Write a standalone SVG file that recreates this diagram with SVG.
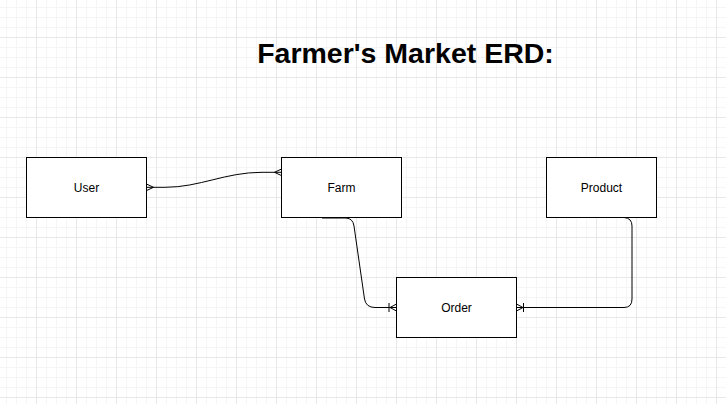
<svg xmlns="http://www.w3.org/2000/svg" width="726" height="404" viewBox="0 0 726 404">
<defs>
<pattern id="minor" x="6" y="7" width="10" height="10" patternUnits="userSpaceOnUse">
<path d="M0 0.5H10M0.5 0V10" fill="none" stroke="#f5f5f5" stroke-width="1"/>
</pattern>
<pattern id="major" x="36" y="37" width="40" height="40" patternUnits="userSpaceOnUse">
<path d="M0 0.5H40M0.5 0V40" fill="none" stroke="#e8e8e8" stroke-width="1"/>
</pattern>
</defs>
<style>
.box{fill:#fff;stroke:#000;stroke-width:1}
.lbl{font-family:"Liberation Sans",Arial,sans-serif;font-size:12px;fill:#000;text-anchor:middle}
.title{font-family:"Liberation Sans",Arial,sans-serif;font-size:28.5px;font-weight:bold;fill:#000;text-anchor:middle}
.edge{fill:none;stroke:#000;stroke-width:1}
</style>
<rect width="726" height="404" fill="#fff"/>
<rect width="726" height="404" fill="url(#minor)"/>
<rect width="726" height="404" fill="url(#major)"/>
<text class="title" x="405.5" y="63">Farmer's Market ERD:</text>
<g id="node-user">
<rect class="box" x="26.5" y="157.5" width="120" height="60"/>
<text class="lbl" x="86.5" y="191.5">User</text>
</g>
<g id="node-farm">
<rect class="box" x="281.5" y="157.5" width="120" height="60"/>
<text class="lbl" x="341.5" y="191.5">Farm</text>
</g>
<g id="node-product">
<rect class="box" x="546.5" y="157.5" width="110" height="60"/>
<text class="lbl" x="601.5" y="191.5">Product</text>
</g>
<g id="node-order">
<rect class="box" x="396.5" y="277.5" width="120" height="60"/>
<text class="lbl" x="456.5" y="311.5">Order</text>
</g>
<g id="connectors">
<g id="user-farm">
<path class="edge" d="M146.5 187.3 L165 187.3 C200 187.3 225 172.3 262 172.3 L281.5 172.3"/>
<path class="edge" d="M146.5 184 L153.5 187.3 L146.5 190.6"/>
<path class="edge" d="M281.5 169 L274.5 172.3 L281.5 175.6"/>
</g>
<g id="farm-order">
<path class="edge" d="M322 218 L346 218 Q353 218.5 354 226 L364.5 299 Q366 307.5 375 307.5 L396.5 307.5"/>
<path class="edge" d="M389 303 L389 312"/>
<path class="edge" d="M396.5 304 L390 307.5 L396.5 311"/>
</g>
<g id="product-order">
<path class="edge" d="M624 217.5 Q632 218 632 226 L632 299 Q632 307.5 624 307.5 L516.5 307.5"/>
<path class="edge" d="M523.5 303 L523.5 312"/>
<path class="edge" d="M516.5 304 L523 307.5 L516.5 311"/>
</g>
</g>
</svg>
